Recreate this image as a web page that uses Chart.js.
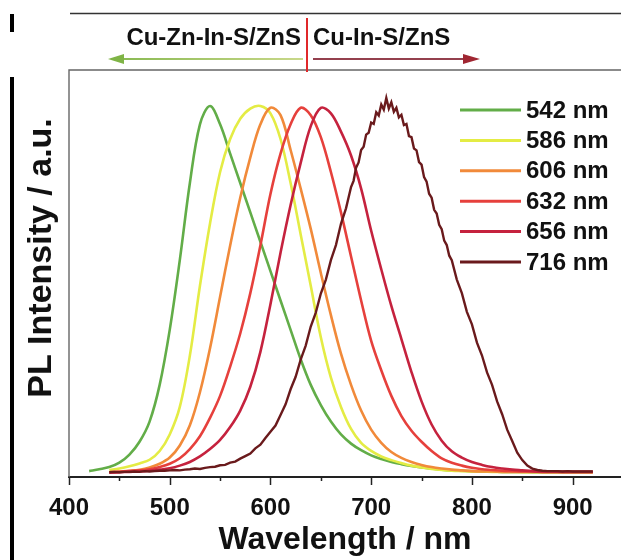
<!DOCTYPE html>
<html><head><meta charset="utf-8">
<script src="https://cdn.jsdelivr.net/npm/chart.js@4"></script>
<style>
html,body{margin:0;padding:0;background:#fff;}
#wrap{position:relative;width:621px;height:560px;overflow:hidden;background:#fff;}
canvas{position:absolute;left:0;top:0;}
</style></head><body>
<div id="wrap"><canvas id="c" width="621" height="560"></canvas></div>
<script>
// ---- data ----
const wavelengths = [420,430,440,450,460,470,480,490,500,510,520,530,540,550,560,570,580,590,600,610,620,630,640,650,660,670,680,690,700,710,720,730,740,750,760,770,780,790,800,810,820,830,840,850,860,870,880,890,900,910,920];
const pl542 = [0.005,0.01,0.016,0.028,0.05,0.085,0.14,0.24,0.39,0.58,0.79,0.95,1.0,0.95,0.87,0.79,0.71,0.63,0.55,0.47,0.39,0.31,0.24,0.185,0.14,0.105,0.08,0.062,0.048,0.038,0.03,0.024,0.019,0.015,0.012,0.009,0.007,0.006,0.005,0.004,0.004,0.003,0.003,0.003,0.002,0.002,0.002,0.002,0.002,0.002,0.002];
const pl586 = [null,null,0.008,0.012,0.018,0.026,0.036,0.06,0.105,0.18,0.32,0.51,0.68,0.82,0.91,0.965,0.993,1.0,0.98,0.91,0.79,0.65,0.51,0.37,0.26,0.18,0.12,0.082,0.06,0.045,0.035,0.027,0.02,0.015,0.011,0.008,0.006,0.005,0.004,0.004,0.003,0.003,0.003,0.002,0.002,0.002,0.002,0.002,0.002,0.002,0.002];
const pl606 = [null,null,0.002,0.004,0.006,0.009,0.015,0.025,0.042,0.075,0.13,0.22,0.34,0.48,0.62,0.75,0.86,0.95,0.995,0.975,0.88,0.775,0.665,0.545,0.43,0.325,0.24,0.17,0.118,0.082,0.057,0.041,0.03,0.022,0.016,0.012,0.009,0.007,0.005,0.004,0.004,0.003,0.003,0.003,0.003,0.002,0.002,0.002,0.002,0.002,0.002];
const pl632 = [null,null,0.002,0.003,0.005,0.007,0.01,0.016,0.025,0.04,0.065,0.1,0.15,0.21,0.29,0.38,0.49,0.62,0.76,0.87,0.95,0.995,0.975,0.915,0.82,0.71,0.59,0.47,0.36,0.28,0.21,0.155,0.115,0.085,0.06,0.04,0.028,0.02,0.014,0.01,0.008,0.006,0.005,0.004,0.004,0.003,0.003,0.003,0.003,0.003,0.003];
const pl656 = [null,null,0.001,0.002,0.003,0.004,0.006,0.009,0.013,0.02,0.03,0.045,0.065,0.09,0.125,0.17,0.235,0.33,0.46,0.6,0.73,0.845,0.945,0.995,0.98,0.93,0.865,0.775,0.66,0.555,0.455,0.365,0.275,0.195,0.132,0.088,0.059,0.042,0.03,0.022,0.016,0.012,0.009,0.007,0.005,0.004,0.004,0.003,0.003,0.003,0.003];
const wavelengths716 = [440,445,450,455,460,465,470,475,480,485,490,495,500,505,510,515,520,525,530,535,540,545,550,555,560,565,570,575,580,585,590,595,600,605,610,615,620,625,630,635,640,645,650,655,660,665,670,675,
  680,682.5,685,687.5,690,692.5,695,697.5,700,702.5,705,707.5,710,712.5,715,717.5,720,722.5,725,727.5,730,732.5,735,737.5,740,742.5,745,747.5,750,752.5,755,757.5,760,762.5,765,767.5,770,772.5,775,777.5,780,
  785,790,795,800,805,810,815,820,825,830,835,840,845,850,855,860,865,870,875,880,885,890,895,900,905,910,915,920];
const pl716 = [0.002,0.003,0.002,0.003,0.003,0.004,0.003,0.005,0.004,0.005,0.006,0.006,0.007,0.008,0.007,0.009,0.010,0.012,0.011,0.014,0.016,0.017,0.021,0.022,
  0.028,0.031,0.039,0.046,0.053,0.067,0.077,0.095,
  0.112,0.129,0.158,0.187,0.228,0.262,0.309,0.347,0.399,0.437,0.489,0.527,
  0.58,0.621,0.679,0.721,
  0.779,0.796,0.832,0.846,0.88,0.889,0.922,0.927,0.955,0.951,0.983,0.974,1.004,0.99,1.022,0.993,1.01,0.984,0.995,0.969,0.976,0.948,0.951,0.918,0.915,0.884,0.879,0.847,0.84,0.806,0.794,0.761,0.75,0.717,0.707,0.676,0.664,0.633,0.621,0.592,0.58,
  0.527,0.49,0.439,0.405,0.355,0.32,0.274,0.24,0.195,0.16,0.118,
  0.087,0.055,0.035,0.02,0.012,0.008,0.006,0.005,0.005,0.005,0.004,0.005,0.004,0.004,0.004,0.004,0.004];
const seriesLabels = ['542 nm','586 nm','606 nm','632 nm','656 nm','716 nm'];
const xTickValues = [400,500,600,700,800,900];
const topLabels = ['Cu-Zn-In-S/ZnS','Cu-In-S/ZnS'];
const xTitle = 'Wavelength / nm';
const yTitle = 'PL Intensity / a.u.';

// ---- styles ----
const colors = ['#62ad48','#e4ec44','#f18a3a','#e6403c','#c5223e','#6a1a1c'];
const FONT = "'Liberation Sans', Arial, Helvetica, sans-serif";
Chart.defaults.font.family = FONT;

function pts(xs, ys){ return xs.map((x,i)=>({x:x,y:ys[i]})); }
const seriesData = [pts(wavelengths,pl542),pts(wavelengths,pl586),pts(wavelengths,pl606),pts(wavelengths,pl632),pts(wavelengths,pl656),pts(wavelengths716,pl716)];

const datasets = seriesData.map((d,i)=>({
  label: seriesLabels[i],
  data: d,
  borderColor: colors[i],
  backgroundColor: colors[i],
  borderWidth: i===5 ? 2.4 : 2.6,
  pointRadius: 0,
  fill: false,
  tension: i===5 ? 0 : 0.35,
  order: 6 - i
}));

const decor = {
  id: 'decor',
  afterDraw(chart){
    const ctx = chart.ctx, ca = chart.chartArea, xs = chart.scales.x;
    ctx.save();
    // frame top & left
    ctx.strokeStyle = '#666'; ctx.lineWidth = 1.4;
    ctx.beginPath(); ctx.moveTo(ca.left, ca.bottom); ctx.lineTo(ca.left, ca.top); ctx.lineTo(chart.width, ca.top); ctx.stroke();
    // tick marks
    ctx.strokeStyle = '#222'; ctx.lineWidth = 1.5;
    for (let v = 400; v <= 900; v += 50){
      const x = Math.round(xs.getPixelForValue(v)) + 0.5;
      const len = (v % 100 === 0) ? 8 : 4;
      ctx.beginPath(); ctx.moveTo(x, ca.bottom); ctx.lineTo(x, ca.bottom + len); ctx.stroke();
    }
    // legend
    ctx.font = 'bold 24px ' + FONT; ctx.textBaseline = 'middle'; ctx.textAlign = 'left'; ctx.fillStyle = '#111';
    chart.data.datasets.forEach((ds,i)=>{
      const y = 110 + i*30.4;
      ctx.strokeStyle = ds.borderColor; ctx.lineWidth = 3;
      ctx.beginPath(); ctx.moveTo(460, y); ctx.lineTo(521, y); ctx.stroke();
      ctx.fillText(ds.label, 526, y + 1);
    });
    // y title
    ctx.save();
    ctx.translate(42, 258); ctx.rotate(-Math.PI/2);
    ctx.font = 'bold 34px ' + FONT; ctx.textAlign = 'center'; ctx.textBaseline = 'middle';
    ctx.fillText(yTitle, 0, 0);
    ctx.restore();
    // top panel: line, labels, divider, arrows
    ctx.strokeStyle = '#333'; ctx.lineWidth = 1.4;
    ctx.beginPath(); ctx.moveTo(70, 13.5); ctx.lineTo(621, 13.5); ctx.stroke();
    ctx.font = 'bold 24px ' + FONT; ctx.textBaseline = 'middle'; ctx.fillStyle = '#111';
    ctx.textAlign = 'right'; ctx.fillText(topLabels[0], 301, 38);
    ctx.textAlign = 'left'; ctx.fillText(topLabels[1], 313, 38);
    ctx.strokeStyle = '#e0282a'; ctx.lineWidth = 2;
    ctx.beginPath(); ctx.moveTo(307, 18); ctx.lineTo(307, 72); ctx.stroke();
    // green arrow (left)
    const g = ctx.createLinearGradient(109, 0, 303, 0);
    g.addColorStop(0, '#86b850'); g.addColorStop(1, '#c9d88a');
    ctx.strokeStyle = g; ctx.lineWidth = 2;
    ctx.beginPath(); ctx.moveTo(303, 59); ctx.lineTo(118, 59); ctx.stroke();
    ctx.fillStyle = '#7fb446';
    ctx.beginPath(); ctx.moveTo(108, 59); ctx.lineTo(124, 54); ctx.lineTo(124, 64); ctx.closePath(); ctx.fill();
    // red arrow (right)
    ctx.strokeStyle = '#94404e'; ctx.lineWidth = 2;
    ctx.beginPath(); ctx.moveTo(313, 59); ctx.lineTo(470, 59); ctx.stroke();
    ctx.fillStyle = '#a02632';
    ctx.beginPath(); ctx.moveTo(480, 59); ctx.lineTo(463, 54); ctx.lineTo(463, 64); ctx.closePath(); ctx.fill();
    // left-edge marks from the neighbouring panel
    ctx.fillStyle = '#000';
    ctx.fillRect(10, 14, 4, 18);
    ctx.fillRect(10, 77, 4, 483);
    ctx.restore();
  }
};

new Chart(document.getElementById('c'), {
  type: 'line',
  data: { datasets: datasets },
  options: {
    responsive: false,
    animation: false,
    layout: { padding: { left: 69, top: 70, right: 0, bottom: 0 } },
    plugins: { legend: { display: false }, tooltip: { enabled: false }, title: { display: false } },
    scales: {
      x: {
        type: 'linear', min: 400, max: 948,
        afterFit: s => { s.height = 83; },
        grid: { drawOnChartArea: false, drawTicks: true, tickLength: 8, tickColor: 'rgba(0,0,0,0)' },
        border: { display: true, color: '#222', width: 2 },
        ticks: {
          stepSize: 100, includeBounds: false, padding: 9, color: '#111', maxRotation: 0, autoSkip: false,
          font: { size: 24, weight: 'bold', family: FONT },
          callback: v => xTickValues.includes(v) ? String(v) : ''
        },
        title: { display: true, text: xTitle, color: '#111', font: { size: 32, weight: 'bold', family: FONT }, padding: { top: 0, bottom: 1 } }
      },
      y: { type: 'linear', display: false, min: -0.011, max: 1.098 }
    }
  },
  plugins: [decor]
});
</script>
</body></html>
